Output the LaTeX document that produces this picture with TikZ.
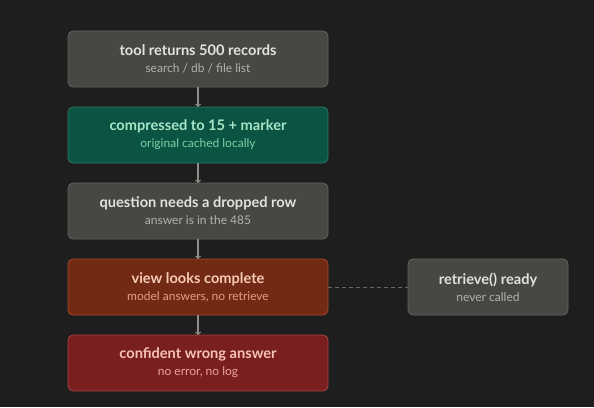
\documentclass[tikz,border=0pt]{standalone}
\usepackage{fontspec}
\setmainfont{Lato}
\usetikzlibrary{arrows,positioning}
\definecolor{bg}{HTML}{1E1E1E}
\definecolor{greyfill}{HTML}{474744}
\definecolor{greyline}{HTML}{62625E}
\definecolor{greytxt}{HTML}{E2E2DE}
\definecolor{greysub}{HTML}{B2B2AC}
\definecolor{tealfill}{HTML}{0B5343}
\definecolor{tealline}{HTML}{2A7A63}
\definecolor{tealtxt}{HTML}{A8E6C8}
\definecolor{tealsub}{HTML}{7FCFAA}
\definecolor{rustfill}{HTML}{722A14}
\definecolor{rustline}{HTML}{A4492C}
\definecolor{rusttxt}{HTML}{F6CBB6}
\definecolor{rustsub}{HTML}{EC9A7E}
\definecolor{redfill}{HTML}{7A1F1F}
\definecolor{redline}{HTML}{A44444}
\definecolor{redtxt}{HTML}{F7C3B9}
\definecolor{redsub}{HTML}{EDA79C}
\definecolor{arrowcol}{HTML}{8E8E89}
\definecolor{dashcol}{HTML}{6A6A66}

\begin{document}
\begin{tikzpicture}[->,>=latex,x=1pt,y=-1pt,
    stepbox/.style={rectangle,rounded corners=5pt,draw,line width=0.8pt,outer sep=0pt,
      minimum width=260pt,minimum height=56pt,align=center,inner sep=0pt},
    arr/.style={draw=arrowcol,line width=1.2pt,-to}]
  \fill[bg] (0,0) rectangle (594,407);
  \useasboundingbox (0,0) rectangle (594,407);
  \node[stepbox,fill=greyfill,draw=greyline,text=greytxt] (tool) at (198,59)
    {{\bfseries\fontsize{14.6}{16}\selectfont tool returns 500 records}\\[5pt]
     {\fontsize{12}{14}\selectfont\color{greysub}search / db / file list}};
  \node[stepbox,fill=tealfill,draw=tealline,text=tealtxt,below=20pt of tool] (comp)
    {{\bfseries\fontsize{14.6}{16}\selectfont compressed to 15 + marker}\\[5pt]
     {\fontsize{12}{14}\selectfont\color{tealsub}original cached locally}};
  \node[stepbox,fill=greyfill,draw=greyline,text=greytxt,below=20pt of comp] (quest)
    {{\bfseries\fontsize{14.6}{16}\selectfont question needs a dropped row}\\[5pt]
     {\fontsize{12}{14}\selectfont\color{greysub}answer is in the 485}};
  \node[stepbox,fill=rustfill,draw=rustline,text=rusttxt,below=20pt of quest] (view)
    {{\bfseries\fontsize{14.6}{16}\selectfont view looks complete}\\[5pt]
     {\fontsize{12}{14}\selectfont\color{rustsub}model answers, no retrieve}};
  \node[stepbox,fill=redfill,draw=redline,text=redtxt,below=20pt of view] (wrong)
    {{\bfseries\fontsize{14.6}{16}\selectfont confident wrong answer}\\[5pt]
     {\fontsize{12}{14}\selectfont\color{redsub}no error, no log}};
  \node[stepbox,minimum width=160pt,fill=greyfill,draw=greyline,text=greytxt,right=80pt of view] (retr)
    {{\bfseries\fontsize{14.6}{16}\selectfont retrieve() ready}\\[5pt]
     {\fontsize{12}{14}\selectfont\color{greysub}never called}};
  \draw[arr] (tool) -- (comp);
  \draw[arr] (comp) -- (quest);
  \draw[arr] (quest) -- (view);
  \draw[arr] (view) -- (wrong);
  \draw[-,draw=dashcol,line width=1pt,dash pattern=on 4pt off 3pt] (view) -- (retr);
\end{tikzpicture}
\end{document}
